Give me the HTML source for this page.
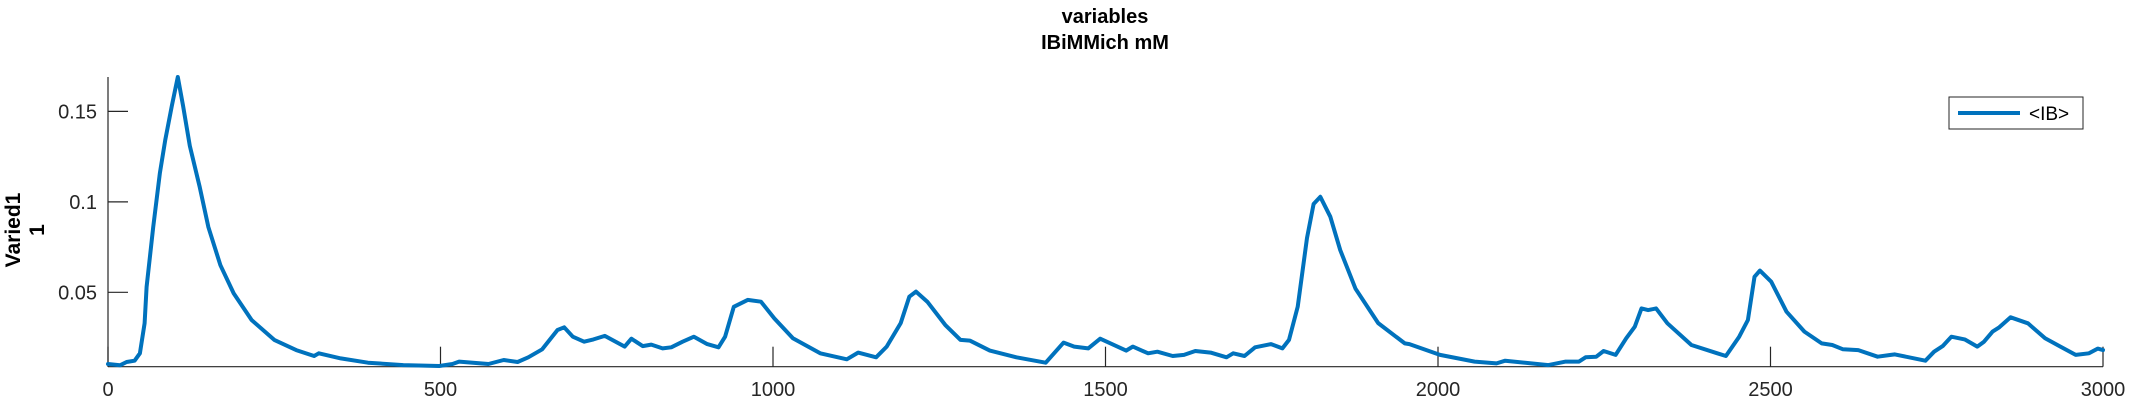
<!DOCTYPE html>
<html><head><meta charset="utf-8"><style>
html,body{margin:0;padding:0;background:#fff;}
svg{display:block;font-family:"Liberation Sans",sans-serif;}
</style></head><body>
<svg id="chart" width="2133" height="400" viewBox="0 0 2133 400" xmlns="http://www.w3.org/2000/svg">
<text x="1105" y="23" font-size="20" font-weight="bold" text-anchor="middle" fill="#000">variables</text>
<text x="1105" y="49" font-size="20" font-weight="bold" text-anchor="middle" fill="#000">IBiMMich mM</text>
<g font-size="21" font-weight="bold" fill="#000" text-anchor="middle">
<text transform="translate(20,230) rotate(-90)">Varied1</text>
<text transform="translate(44,230) rotate(-90)">1</text>
</g>
<g id="axes"></g>
<path id="series" fill="none" stroke="#0072BD" stroke-width="4" stroke-linejoin="round" stroke-linecap="round"/>
<g>
<rect x="1949" y="97" width="134" height="32" fill="#fff" stroke="#262626" stroke-width="1"/>
<line x1="1958" y1="113" x2="2020" y2="113" stroke="#0072BD" stroke-width="4"/>
<text x="2029" y="120" font-size="19" fill="#000">&lt;IB&gt;</text>
</g>
</svg>
<script>
const xs=[0,18,28,40,48,55,58,68,78,86,96,105,113,123,138,151,169,189,216,250,283,310,317,350,391,444,498,518,528,572,595,616,632,653,676,686,699,716,730,747,777,787,804,817,834,847,864,881,901,918,928,941,962,982,1002,1030,1071,1111,1128,1155,1171,1192,1205,1215,1232,1259,1282,1296,1326,1366,1410,1437,1453,1474,1492,1531,1541,1564,1578,1601,1618,1635,1658,1682,1692,1709,1725,1749,1766,1776,1789,1803,1813,1823,1838,1853,1876,1910,1950,1957,2003,2055,2088,2101,2166,2192,2212,2222,2238,2249,2267,2283,2296,2306,2316,2328,2345,2381,2420,2433,2453,2466,2476,2484,2501,2524,2551,2577,2593,2609,2632,2661,2681,2687,2733,2746,2759,2772,2792,2811,2821,2834,2844,2861,2887,2913,2936,2959,2979,2992,3000];
const ys=[0.0104,0.0097,0.0115,0.0122,0.0163,0.0329,0.053,0.086,0.116,0.134,0.153,0.169,0.153,0.131,0.108,0.086,0.065,0.0494,0.0347,0.0237,0.0181,0.0148,0.0163,0.0135,0.0111,0.0098,0.0093,0.0104,0.0117,0.0104,0.0126,0.0115,0.0141,0.0185,0.0292,0.0307,0.0255,0.0227,0.0240,0.0259,0.0200,0.0244,0.0203,0.0211,0.0190,0.0196,0.0227,0.0255,0.0214,0.0196,0.0255,0.042,0.0458,0.0448,0.0356,0.0246,0.0163,0.013,0.0167,0.0141,0.020,0.033,0.0476,0.0504,0.0448,0.032,0.0237,0.0233,0.0178,0.0141,0.0111,0.0222,0.020,0.019,0.0244,0.0178,0.020,0.0163,0.0172,0.0148,0.0154,0.0176,0.0167,0.0141,0.0163,0.0148,0.0196,0.0214,0.019,0.0237,0.042,0.0800,0.0988,0.1028,0.0918,0.0734,0.0520,0.033,0.0218,0.0214,0.0154,0.0117,0.0107,0.0122,0.0098,0.0117,0.0117,0.0141,0.0144,0.0176,0.0154,0.0246,0.031,0.0411,0.0402,0.0411,0.0329,0.0209,0.0163,0.0148,0.0255,0.0347,0.0586,0.062,0.0559,0.0393,0.0283,0.0218,0.0209,0.0185,0.0181,0.0144,0.0154,0.0157,0.0122,0.0172,0.0203,0.0255,0.0240,0.0200,0.0227,0.0283,0.0307,0.0362,0.0329,0.0246,0.0200,0.0154,0.0163,0.0189,0.0181];
const xTicks=[0,500,1000,1500,2000,2500,3000];
const xTickLabels=["0","500","1000","1500","2000","2500","3000"];
const yTicks=[0.05,0.1,0.15];
const yTickLabels=["0.05","0.1","0.15"];
const X0=108,X1=2103,Y0=366.7,Y1=77,XMIN=0,XMAX=3000,YMIN=0.0089,YMAX=0.169;
function sx(v){return X0+(v-XMIN)/(XMAX-XMIN)*(X1-X0);}
function sy(v){return Y0-(v-YMIN)/(YMAX-YMIN)*(Y0-Y1);}
const NS="http://www.w3.org/2000/svg";
const axes=document.getElementById('axes');
function mk(tag,attrs){const e=document.createElementNS(NS,tag);for(const k in attrs)e.setAttribute(k,attrs[k]);return e;}
const xa=mk('line',{x1:X0,y1:Y0,x2:X1,y2:Y0,stroke:'#262626','stroke-width':1.2});


axes.appendChild(xa);
const ya=mk('line',{x1:X0,y1:Y0,x2:X0,y2:Y1,stroke:'#262626','stroke-width':1.2});


axes.appendChild(ya);
xTicks.forEach((t,i)=>{
 const x=sx(t);
 const tk=mk('line',{x1:x,y1:Y0,x2:x,y2:Y0-20,stroke:'#262626','stroke-width':1.2});
 
 
 axes.appendChild(tk);
 const tx=mk('text',{x:x,y:396,'font-size':20,'text-anchor':'middle',fill:'#262626'});
 tx.textContent=xTickLabels[i];
 
 
 axes.appendChild(tx);
});
yTicks.forEach((t,i)=>{
 const y=sy(t);
 const tk=mk('line',{x1:X0,y1:y,x2:X0+20,y2:y,stroke:'#262626','stroke-width':1.2});
 
 
 axes.appendChild(tk);
 const tx=mk('text',{x:97,y:y+7,'font-size':20,'text-anchor':'end',fill:'#262626'});
 tx.textContent=yTickLabels[i];
 
 
 axes.appendChild(tx);
});
let d='';
xs.forEach((x,i)=>{d+=(i?'L':'M')+sx(x).toFixed(1)+','+sy(ys[i]).toFixed(1);});
document.getElementById('series').setAttribute('d',d);
</script>
</body></html>
